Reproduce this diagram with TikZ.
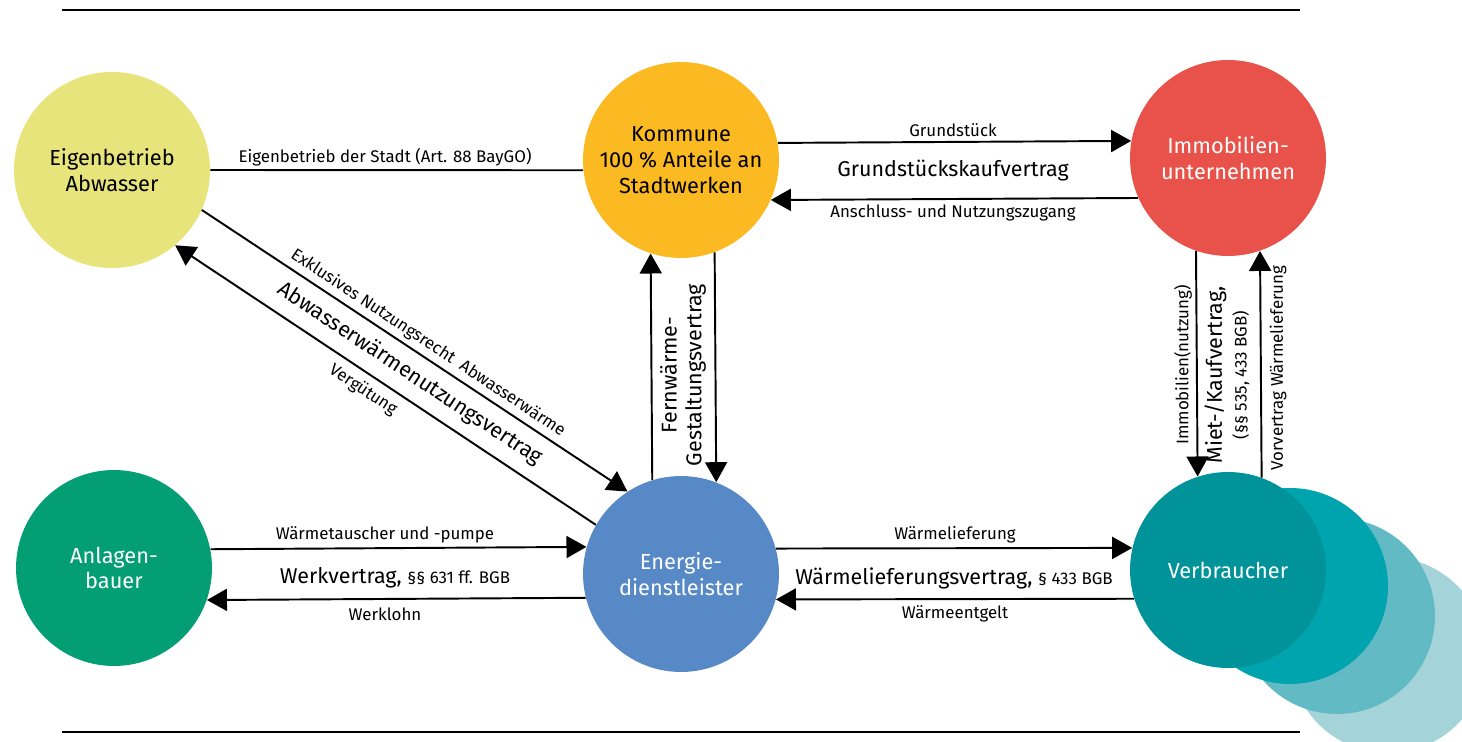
\documentclass[tikz,border=0pt]{standalone}
\usepackage{fontspec}
\setmainfont{Fira Sans}
\usepackage{xcolor}
\usepackage{tikz}
\usetikzlibrary{arrows.meta}

\definecolor{cEig}{HTML}{E6E47A}
\definecolor{cKom}{HTML}{FBBA21}
\definecolor{cImmo}{HTML}{E9524A}
\definecolor{cAnl}{HTML}{049E74}
\definecolor{cEnr}{HTML}{5789C7}
\definecolor{cVer}{HTML}{00939A}
\definecolor{cVerA}{HTML}{00A4AE}
\definecolor{cVerB}{HTML}{62BBC4}
\definecolor{cVerC}{HTML}{A4D4D9}

\tikzset{
  party/.style={circle, inner sep=0pt, minimum size=3.92cm, align=center,
    font=\fontsize{12.4}{14.7}\selectfont},
  lbl/.style={font=\fontsize{9.6}{11}\selectfont, inner sep=1pt},
  biglbl/.style={font=\fontsize{12.2}{14}\selectfont, inner sep=1pt},
  flow/.style={line width=1.1pt}
}

\begin{document}
\begin{tikzpicture}[x=0.02cm, y=-0.02cm, >={Triangle[length=4mm,width=4.4mm]}]
            \useasboundingbox (0,0) rectangle (1462,742);
            
            \draw[line width=1.1pt] (62,10) -- (1300,10);
            \draw[line width=1.1pt] (62,732) -- (1300,732);
            
            % Verbraucher stack
            \fill[cVerC] (1388,655) circle (98);
            \fill[cVerB] (1337,616) circle (98);
            \fill[cVerA] (1290,586) circle (98);
            
            \node[party, fill=cEig] (eig) at (112,170) {Eigenbetrieb\\Abwasser};
            \node[party, fill=cKom] (kom) at (681,160) {Kommune\\100 \% Anteile an\\Stadtwerken};
            \node[party, fill=cImmo, text=white] (immo) at (1228,158) {Immobilien-\\unternehmen};
            \node[party, fill=cAnl, text=white] (anl) at (114,568) {Anlagen-\\bauer};
            \node[party, fill=cEnr, text=white] (enr) at (681,574) {Energie-\\dienstleister};
            \node[party, fill=cVer, text=white] (ver) at (1228,570) {Verbraucher};
            
            % top row
            \draw[flow] (eig.east) -- (kom.186.5);
            \node[lbl] (l1) at (385,157) {Eigenbetrieb der Stadt (Art. 88 BayGO)};
            
            \draw[flow, ->] (kom.10.7) -- (immo.170.6);
            \draw[flow, ->] (immo.204.1) -- (kom.336.9);
            \node[lbl] (l2) at (953,130) {Grundstück};
            \node[biglbl] (l3) at (953,171) {Grundstückskaufvertrag};
            \node[lbl] (l4) at (953,213) {Anschluss- und Nutzungszugang};
            
            % verticals
            \draw[flow, ->] (enr.107.4) -- (kom.252.6);
            \draw[flow, ->] (kom.290.5) -- (enr.69.5);
            \node[biglbl, rotate=90, align=center] (l5) at (683,375) {Fernwärme-\\Gestaltungsvertrag};
            
            \draw[flow, ->] (immo.251.6) -- (ver.108.4);
            \draw[flow, ->] (ver.70.9) -- (immo.289.1);
            \node[lbl, rotate=90] (l6) at (1183,365) {Immobilien(nutzung)};
            \node[biglbl, rotate=90, align=center] (l7) at (1227,375) {Miet-/Kaufvertrag,\\{\fontsize{9.6}{11}\selectfont (§§ 535, 433 BGB)}};
            \node[lbl, rotate=90] (l8) at (1278,368) {Vorvertrag Wärmelieferung};
            
            % diagonals
            \draw[flow, ->] (eig.-24.3) -- (enr.123.7);
            \draw[flow, ->] (enr.150.8) -- (eig.310.4);
            \node[lbl, rotate=-33.5] (l9) at (428,343) {Exklusives Nutzungsrecht\ \ Abwasserwärme};
            \node[biglbl, rotate=-33.5] (l10) at (410,374) {Abwasserwärmenutzungsvertrag};
            \node[lbl, rotate=-33.5] (l11) at (363,390) {Vergütung};
            
            % bottom row
            \draw[flow, ->] (anl.11.8) -- (enr.164.5);
            \draw[flow, ->] (enr.194.9) -- (anl.341.6);
            \node[lbl] (l12) at (385,535) {Wärmetauscher und -pumpe};
            \node[biglbl] (l13) at (395,578) {Werkvertrag, {\fontsize{9.6}{11}\selectfont §§ 631 ff. BGB}};
            \node[lbl] (l14) at (385,614) {Werklohn};
            
            \draw[flow, ->] (enr.15.5) -- (ver.167);
            \draw[flow, ->] (ver.197.2) -- (enr.345.1);
            \node[lbl] (l15) at (955,535) {Wärmelieferung};
            \node[biglbl] (l16) at (954,578) {Wärmelieferungsvertrag, {\fontsize{9.6}{11}\selectfont § 433 BGB}};
            \node[lbl] (l17) at (955,614) {Wärmeentgelt};
        \end{tikzpicture}
\end{document}
